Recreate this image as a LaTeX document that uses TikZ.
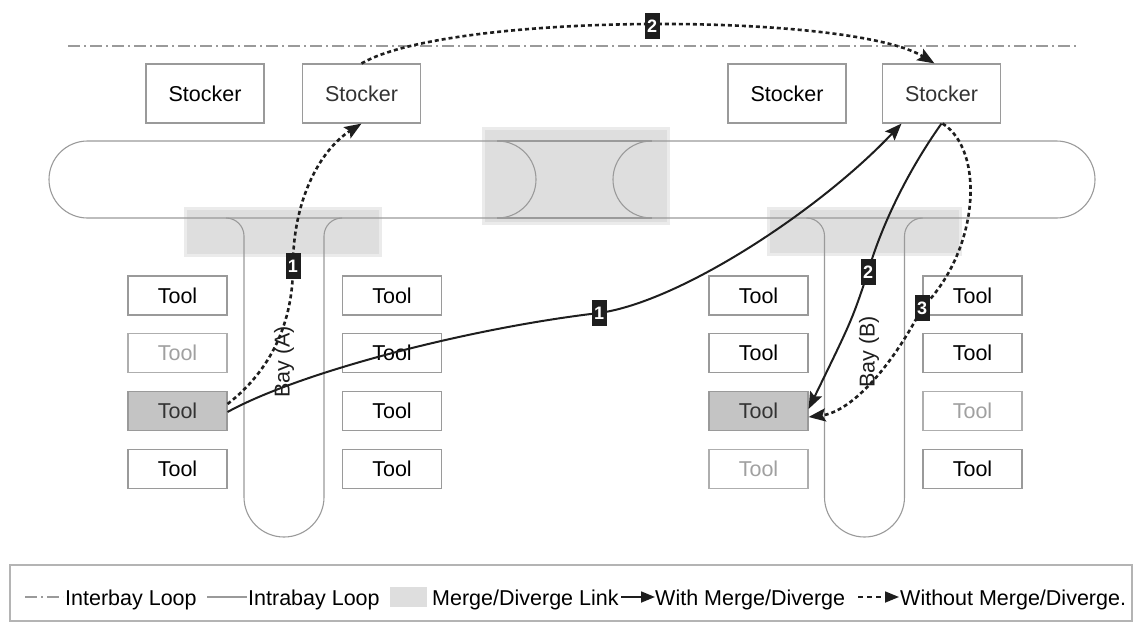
\documentclass[tikz,border=0pt]{standalone}
\usepackage{fontspec}
\setmainfont{Liberation Sans}
\usetikzlibrary{arrows.meta}

\definecolor{loopgray}{HTML}{9A9A9A}
\definecolor{linkgray}{HTML}{DEDEDE}
\definecolor{ink}{HTML}{1E1E1E}
\definecolor{dimtext}{HTML}{A0A0A0}
\definecolor{busyfill}{HTML}{C4C4C4}
\definecolor{framegray}{HTML}{B4B4B4}

\tikzset{
  every node/.style={font=\fontsize{21.5}{24}\selectfont},
  loopline/.style={draw=loopgray, line width=1.1pt},
  interbay/.style={draw=loopgray, line width=1.1pt, dash pattern=on 12pt off 4pt on 2pt off 4pt},
  linkzone/.style={fill=linkgray, draw=linkgray!60, line width=3pt},
  stockerbox/.style={draw=loopgray, line width=1.1pt, minimum width=118pt, minimum height=59pt, inner sep=0pt, fill=white},
  toolbox/.style={draw=loopgray, line width=1.1pt, minimum width=99pt, minimum height=39pt, inner sep=0pt, fill=white},
  idle/.style={text=dimtext, draw=loopgray!80},
  busy/.style={fill=busyfill, text=black!80},
  tag/.style={fill=ink, text=white, font=\fontsize{18}{18}\selectfont\bfseries, minimum width=15pt, minimum height=26pt, inner sep=0pt},
  tip/.style={-{Stealth[length=17pt,width=13pt,inset=3pt]}},
  withmd/.style={draw=ink, line width=2pt, tip},
  withoutmd/.style={draw=ink, line width=2.6pt, dash pattern=on 4pt off 3pt, tip},
  baylabel/.style={rotate=90, text=ink, inner sep=0pt},
  legendtext/.style={anchor=base west, inner sep=0pt},
}

\begin{document}
\begin{tikzpicture}[x=1pt, y=-1pt]
\useasboundingbox (0,0) rectangle (1136,624);

% merge / diverge link zones
\path[linkzone] (483,128) rectangle (668,223);
\path[linkzone] (185,208) rectangle (380,255);
\path[linkzone] (768,208) rectangle (960,254);

% interbay loop
\draw[interbay] (68,46) -- (1079,46);

% the two intrabay main loops, joined along their long sides
\draw[loopline, rounded corners=38.5pt] (49,141) rectangle (536,218);
\draw[loopline, rounded corners=38.5pt] (613,141) rectangle (1095,218);
\draw[loopline] (497,141) -- (652,141);
\draw[loopline] (497,218) -- (652,218);

% bay loops with fillets onto the main loop
\draw[loopline] (226,218) arc[start angle=90, end angle=0, radius=18pt]
  -- (244,497) arc[start angle=180, end angle=360, radius=40pt]
  -- (324,236) arc[start angle=180, end angle=90, radius=18pt];
\draw[loopline] (806.5,218) arc[start angle=90, end angle=0, radius=18pt]
  -- (824.5,497) arc[start angle=180, end angle=360, radius=40pt]
  -- (904.5,236) arc[start angle=180, end angle=90, radius=18pt];

% stockers
\node[stockerbox] (s1) at (205,93.5) {Stocker};
\node[stockerbox, text=black!80] (s2) at (361.5,93.5) {Stocker};
\node[stockerbox] (s3) at (787,93.5) {Stocker};
\node[stockerbox, text=black!80] (s4) at (941.5,93.5) {Stocker};

% tools of bay A
\node[toolbox] (tA1) at (177.5,295.5) {Tool};
\node[toolbox, idle] (tA2) at (177.5,353) {Tool};
\node[toolbox, busy] (tA3) at (177.5,411) {Tool};
\node[toolbox] (tA4) at (177.5,469) {Tool};
\node[toolbox] (uA1) at (392,295.5) {Tool};
\node[toolbox] (uA2) at (392,353) {Tool};
\node[toolbox] (uA3) at (392,411) {Tool};
\node[toolbox] (uA4) at (392,469) {Tool};

% tools of bay B
\node[toolbox] (tB1) at (758.5,295.5) {Tool};
\node[toolbox] (tB2) at (758.5,353) {Tool};
\node[toolbox, busy] (tB3) at (758.5,411) {Tool};
\node[toolbox, idle] (tB4) at (758.5,469) {Tool};
\node[toolbox] (uB1) at (972.5,295.5) {Tool};
\node[toolbox] (uB2) at (972.5,353) {Tool};
\node[toolbox, idle] (uB3) at (972.5,411) {Tool};
\node[toolbox] (uB4) at (972.5,469) {Tool};

% bay names
\node[baylabel] (bayA) at (284,362) {Bay (A)};
\node[baylabel] (bayB) at (869,352) {Bay (B)};

% waypoints carrying the step numbers
\coordinate (wA1) at (293,266);
\coordinate (wI2) at (652,26);
\coordinate (wM1) at (599,313);
\coordinate (wB2) at (868,272);
\coordinate (wB3) at (922,308);

% routes without merge/diverge
\draw[withoutmd] ([yshift=7pt]tA3.east) .. controls (265,375) and (293,330) .. (wA1)
  .. controls (293,200) and (320,150) .. (s2.south);
\draw[withoutmd] (s2.north) .. controls (450,12) and (850,12) .. ([xshift=-7pt]s4.north);
\draw[withoutmd] ([xshift=1pt]s4.south) .. controls (985,150) and (980,250) .. (wB3)
  .. controls (890,370) and (850,412) .. ([yshift=-6pt]tB3.east);

% routes with merge/diverge
\draw[withmd] ([yshift=-1pt]tA3.east) .. controls (300,372) and (470,328) .. (wM1)
  .. controls (680,302) and (820,210) .. ([xshift=-40pt]s4.south);
\draw[withmd] (s4.south) .. controls (905,175) and (880,230) .. (wB2)
  .. controls (852,320) .. ([yshift=2pt]tB3.east);

% step numbers
\node[tag] (nA1) at (wA1) {1};
\node[tag] (nI2) at (wI2) {2};
\node[tag] (nM1) at (wM1) {1};
\node[tag] (nB2) at (wB2) {2};
\node[tag] (nB3) at (wB3) {3};

% legend
\draw[draw=framegray, line width=1.1pt] (10,565) rectangle (1132,621);
\draw[interbay] (25,597) -- (63,597);
\node[legendtext] (lg1) at (65,605) {Interbay Loop};
\draw[loopline] (207,597) -- (247,597);
\node[legendtext] (lg2) at (248,605) {Intrabay Loop};
\fill[linkgray] (390,587) rectangle (427,607);
\node[legendtext] (lg3) at (432,605) {Merge/Diverge Link};
\draw[draw=ink, line width=1.8pt, -{Triangle[length=14pt,width=11pt]}] (621,597) -- (655,597);
\node[legendtext] (lg4) at (655,605) {With Merge/Diverge};
\draw[draw=ink, line width=1.8pt, dash pattern=on 5pt off 4pt, -{Triangle[length=14pt,width=11pt]}] (858,597) -- (899,597);
\node[legendtext] (lg5) at (900,605) {Without Merge/Diverge.};
\end{tikzpicture}
\end{document}
